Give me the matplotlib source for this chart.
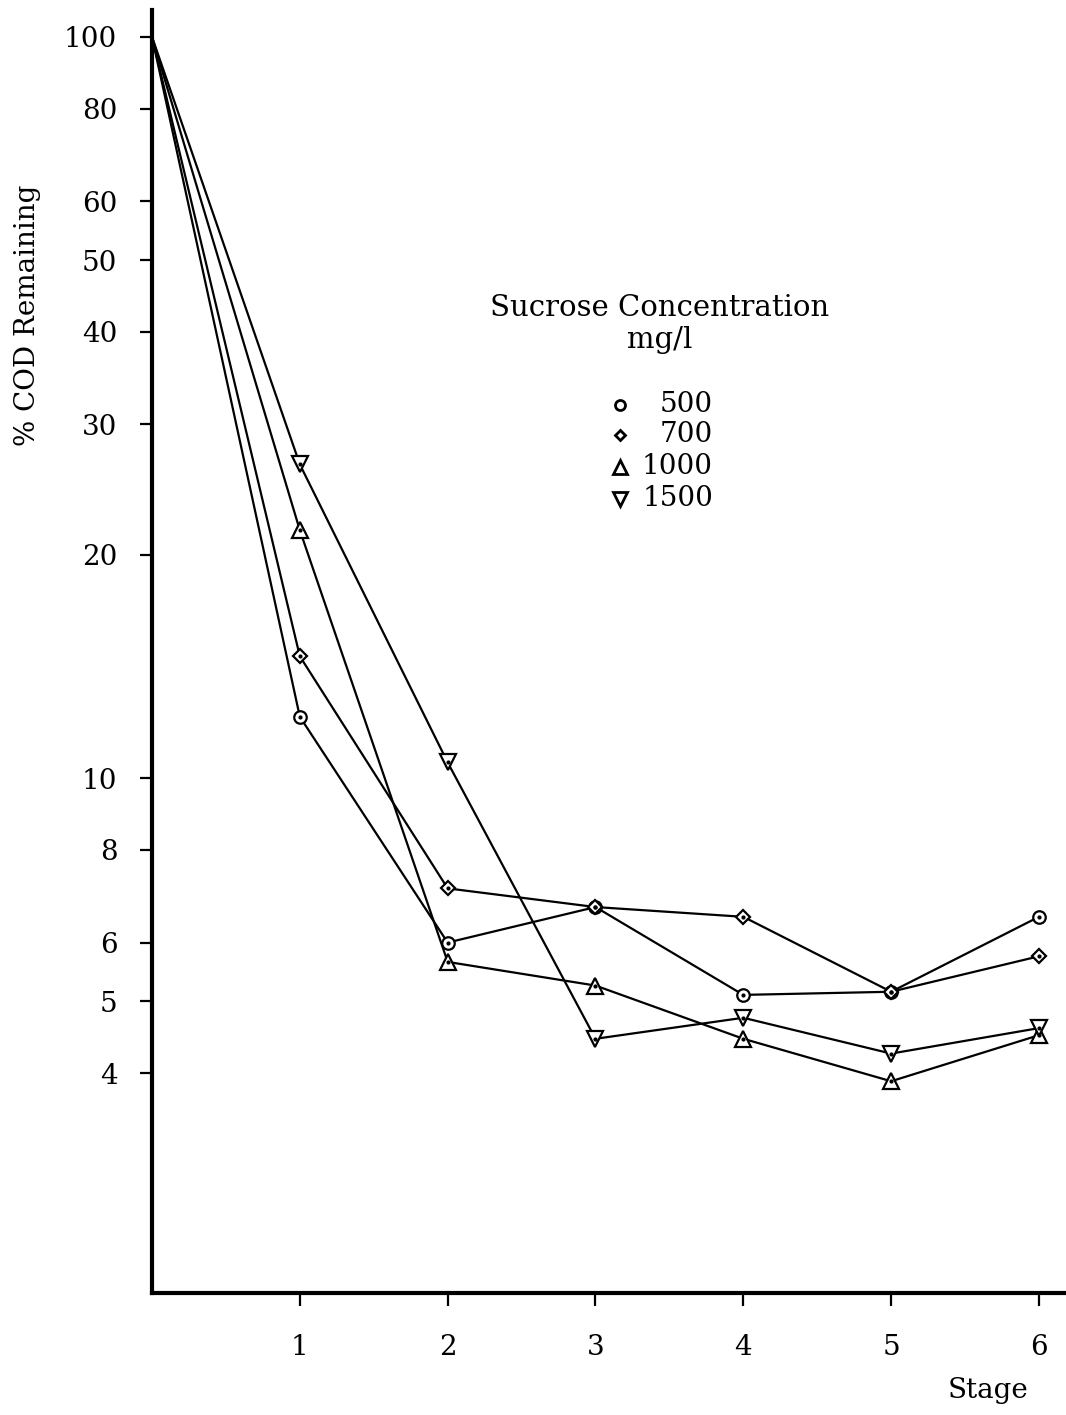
import matplotlib.pyplot as plt
from matplotlib.lines import Line2D
from matplotlib.ticker import FixedLocator, NullLocator

plt.rcParams['font.family'] = ['DejaVu Serif']

# datos
stages = [0, 1, 2, 3, 4, 5, 6]
cod_500 = [100, 12.1, 6.0, 6.7, 5.1, 5.15, 6.5]
cod_700 = [100, 14.6, 7.1, 6.7, 6.5, 5.15, 5.75]
cod_1000 = [100, 21.6, 5.65, 5.25, 4.45, 3.9, 4.5]
cod_1500 = [100, 26.5, 10.5, 4.45, 4.75, 4.25, 4.6]
series_labels = ["500", "700", "1000", "1500"]
y_ticks = [4, 5, 6, 8, 10, 20, 30, 40, 50, 60, 80, 100]
x_ticks = [1, 2, 3, 4, 5, 6]

fig = plt.figure(figsize=(10.66, 14.15), dpi=100)
ax = fig.add_axes([0.1426, 0.0862, 0.857, 0.9067])

series = [cod_500, cod_700, cod_1000, cod_1500]
markers = ['o', 'D', '^', 'v']
sizes = [9, 7, 12, 12]
for vals, m, s in zip(series, markers, sizes):
    ax.plot(stages, vals, color='black', lw=1.6, marker=m, ms=s, mfc='white',
            mec='black', mew=1.6, markevery=slice(1, None), zorder=3)
    ax.plot(stages[1:], vals[1:], ls='none', marker='o', ms=2, color='black', zorder=4)

ax.set_yscale('log')
ax.set_ylim(2.02, 108.7)
ax.set_xlim(0, 6.18)
ax.yaxis.set_major_locator(FixedLocator(y_ticks))
ax.yaxis.set_minor_locator(NullLocator())
ax.set_yticklabels([str(t) for t in y_ticks])
ax.set_xticks(x_ticks)
ax.tick_params(axis='y', length=9, width=1.6, pad=16, labelsize=20)
ax.tick_params(axis='x', length=9.5, width=1.6, pad=20, labelsize=20)

for side in ['top', 'right']:
    ax.spines[side].set_visible(False)
for side in ['left', 'bottom']:
    ax.spines[side].set_linewidth(3)

fig.text(0.026, 1 - 315 / 1415, "% COD Remaining", rotation=90, ha='center', va='center', fontsize=20)
fig.text(988 / 1066, 1 - 1391 / 1415, "Stage", ha='center', va='center', fontsize=20)

# leyenda dibujada a mano
fig.text(660 / 1066, 1 - 308 / 1415, "Sucrose Concentration", ha='center', va='center', fontsize=21)
fig.text(660 / 1066, 1 - 340 / 1415, "mg/l", ha='center', va='center', fontsize=21)
leg_y = [405, 435, 467, 499]
for lab, m, s, yy in zip(series_labels, markers, sizes, leg_y):
    fy = 1 - yy / 1415
    fig.add_artist(Line2D([620 / 1066], [fy], marker=m, ms=s * 0.8, mfc='white', mec='black',
                          mew=2, ls='none'))
    fig.text(713 / 1066, fy, lab, ha='right', va='center', fontsize=20)

fig.savefig("out.png", dpi=100)
